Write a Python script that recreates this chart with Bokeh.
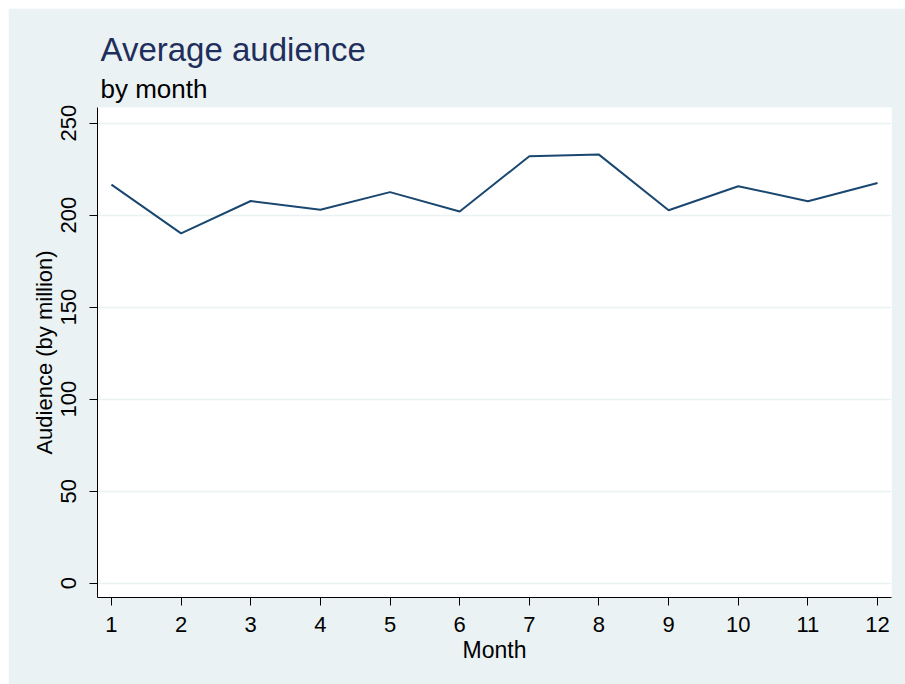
from bokeh.plotting import figure
from bokeh.models import Title, Range1d, FixedTicker, Spacer
from bokeh.layouts import row, column
from bokeh.embed import file_html
from bokeh.resources import INLINE

# data
months = [1, 2, 3, 4, 5, 6, 7, 8, 9, 10, 11, 12]
audience = [216.6, 190.1, 207.7, 202.9, 212.5, 202.0, 232.0, 232.9, 202.7, 215.7, 207.6, 217.5]
y_ticks = [0, 50, 100, 150, 200, 250]
x_ticks = months

BG = "#EAF2F3"
FONT = "Liberation Sans"

p = figure(width=897, height=676, output_backend="svg", toolbar_location=None,
           x_range=Range1d(0.8, 12.2), y_range=Range1d(-7.77, 258.5),
           min_border_left=89, min_border_right=14, min_border_top=99, min_border_bottom=87)

p.background_fill_color = "white"
p.border_fill_color = BG
p.outline_line_color = None

p.title.text = "Average audience"
p.title.text_font = FONT
p.title.text_font_size = "33px"
p.title.text_font_style = "normal"
p.title.text_color = "#1F2E5C"
p.title.align = "left"
p.title.offset = 3
p.title.standoff = 1

p.add_layout(Title(text="by month", text_font=FONT, text_font_size="26px",
                   text_font_style="normal", text_color="black", align="left",
                   offset=3, standoff=7), "above")

p.line(months, audience, line_color="#1A476F", line_width=2)

p.xgrid.visible = False
p.ygrid.grid_line_color = BG
p.ygrid.grid_line_width = 1.5

p.xaxis.ticker = FixedTicker(ticks=x_ticks)
p.yaxis.ticker = FixedTicker(ticks=y_ticks)
for ax in (p.xaxis, p.yaxis):
    ax.minor_tick_line_color = None
    ax.major_tick_in = 0
    ax.major_tick_out = 8
    ax.axis_line_color = "black"
    ax.major_tick_line_color = "black"
    ax.major_label_text_font = FONT
    ax.major_label_text_font_size = "22px"
    ax.major_label_text_color = "black"
    ax.axis_label_text_font = FONT
    ax.axis_label_text_font_style = "normal"
    ax.axis_label_text_color = "black"

p.xaxis.axis_label = "Month"
p.xaxis.axis_label_text_font_size = "23px"
p.xaxis.major_label_standoff = 11
p.xaxis.axis_label_standoff = 2
p.yaxis.axis_label = "Audience (by million)"
p.yaxis.axis_label_text_font_size = "22px"
p.yaxis.major_label_orientation = "vertical"
p.yaxis.major_label_standoff = 13
p.yaxis.axis_label_standoff = 2

layout = row(Spacer(width=8, height=8), column(Spacer(width=8, height=8), p))

open("out.html", "w").write(file_html(layout, INLINE))
